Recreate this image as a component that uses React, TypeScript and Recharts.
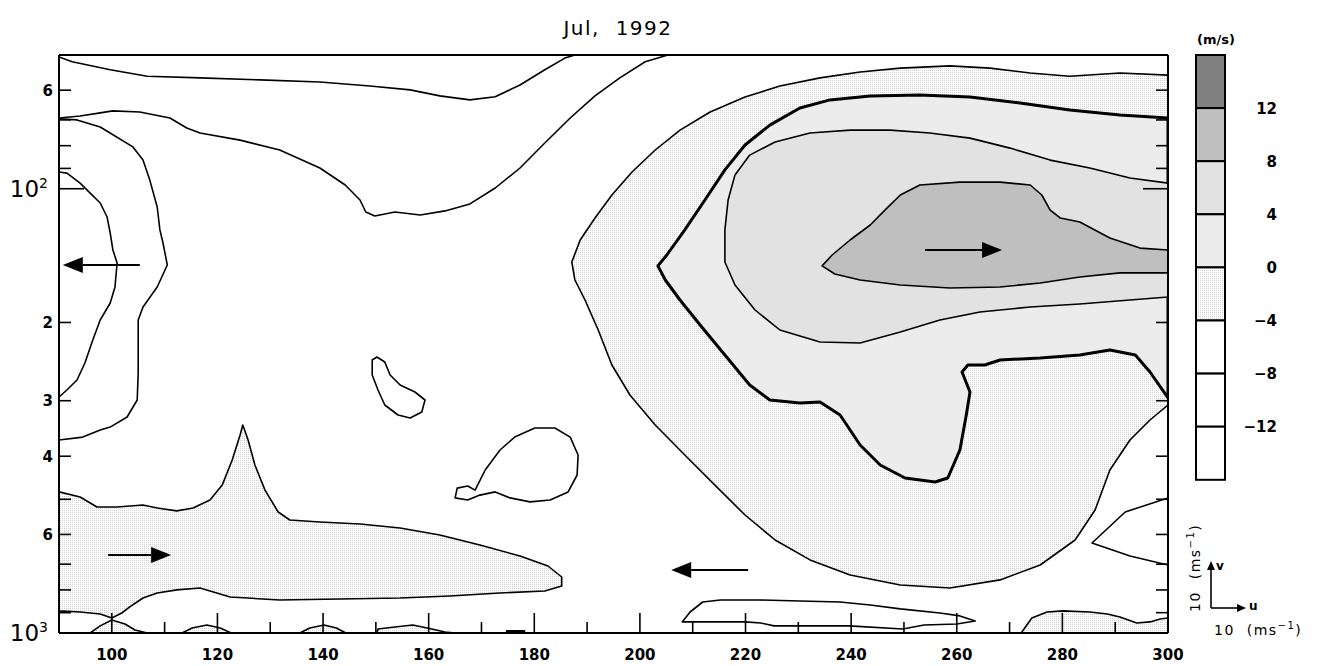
import React from "react";
import { ComposedChart, Scatter, XAxis, YAxis } from "recharts";

const W = 1326;
const H = 666;
const FONT = "DejaVu Sans, Liberation Sans, sans-serif";

// ---- axes ----
const lonTicks = [90, 100, 110, 120, 130, 140, 150, 160, 170, 180, 190, 200, 210, 220, 230, 240, 250, 260, 270, 280, 290, 300];
const presTicks = [50, 60, 70, 80, 90, 100, 200, 300, 400, 500, 600, 700, 800, 900, 1000];
const presLabelAt = [60, 100, 200, 300, 400, 600, 1000];
const presLabelBase = ["6", "10", "2", "3", "4", "6", "10"];
const presLabelExp = ["", "2", "", "", "", "", "3"];

// ---- colour bar (m/s) ----
const levels = [12, 8, 4, 0, -4, -8, -12];
const bandFills = ["#808080", "#bfbfbf", "#e2e2e2", "#ececec", "url(#stippleKey)", "#ffffff", "#ffffff", "#ffffff"];

// ---- wind vectors (tail lon, tail hPa, u m/s) ----
const arrowLon = [105.3, 99.3, 220.5, 254.0];
const arrowP = [148.5, 667.3, 721.3, 137.4];
const arrowU = [-22, 18, -22, 22];

// ---- contours: [lon, hPa] ----
type Pt = [number, number];

const stippleEast: Pt[] = [
  [300, 55.5], [290.9, 54.9], [281.4, 55.8], [273.9, 54.9], [266.3, 53.5], [258.7, 52.9], [249.3, 53.5], [241.7, 54.6],
  [234.1, 56.3], [226.5, 58.7], [219.9, 62.2], [213.3, 67.2], [207.6, 73.8], [202.9, 81.8], [198.5, 91.7], [194.7, 103.3],
  [191.5, 116.4], [188.7, 130.4], [187.1, 146.2], [187.7, 160.5], [189.6, 178.0], [192.1, 208.0], [194.7, 249.3],
  [198.1, 291.3], [202.9, 340.3], [208.5, 397.6], [214.2, 464.5], [219.9, 542.4], [225.6, 617.4], [232.2, 684.8],
  [239.8, 740.2], [249.3, 779.6], [258.7, 791.8], [268.2, 759.6], [275.8, 702.8], [282.4, 617.4], [286.2, 528.5],
  [289.0, 429.7], [292.8, 367.8], [296.6, 331.6], [300, 306.8],
];

const stippleWest: Pt[] = [
  [90, 481.4], [94.0, 494.1], [97.2, 520.4], [101.0, 520.4], [105.9, 515.0], [108.6, 523.1], [112.3, 531.2], [115.4, 523.1],
  [118.6, 501.8], [120.9, 464.5], [122.8, 408.0], [124.3, 358.4], [124.8, 340.3], [125.8, 367.8], [127.1, 418.7],
  [129.0, 476.7], [131.5, 534.0], [133.7, 556.6], [139.4, 562.4], [147.0, 568.3], [154.6, 580.2], [162.1, 601.6],
  [169.7, 633.6], [177.3, 670.8], [182.6, 706.5], [185.2, 747.9], [185.2, 783.6], [182.0, 804.3], [173.5, 812.6],
  [164.0, 825.4], [154.6, 834.0], [143.2, 838.3], [131.8, 842.6], [122.4, 829.7], [116.7, 791.8], [112.3, 800.0],
  [108.6, 812.6], [105.9, 834.0], [103.4, 873.7], [101.9, 901.3], [100.0, 925.0], [97.8, 906.0], [94.0, 896.7], [90, 892.0],
];

const bump100: Pt[] = [[95.9, 1000], [97.8, 964.1], [100.0, 934.6], [102.5, 954.2], [104.4, 984.4], [106.7, 1000]];
const bump120: Pt[] = [[113.3, 1000], [115.2, 974.2], [118.0, 959.2], [120.5, 974.2], [122.6, 1000]];
const bump140: Pt[] = [[135.6, 1000], [137.5, 974.2], [140.2, 959.2], [142.5, 974.2], [144.3, 1000]];
const bump160: Pt[] = [[150.2, 1000], [150.4, 979.3], [153.6, 969.2], [157.0, 959.2], [160.6, 979.3], [163.1, 994.6], [165.0, 1000]];
const bumpEast: Pt[] = [
  [272.2, 1000], [274.2, 925.0], [277.1, 896.7], [280.1, 892.0], [285.2, 896.7], [288.5, 906.0], [290.9, 920.2],
  [294.1, 949.3], [296.6, 944.3], [298.5, 929.8], [300, 925.0], [300, 1000],
];

const zeroLine: Pt[] = [
  [300, 69.3], [290.9, 68.2], [281.4, 66.5], [272.0, 64.1], [262.5, 62.2], [253.0, 61.5], [243.6, 61.8], [236.0, 63.1],
  [230.3, 65.8], [224.6, 71.9], [219.9, 79.7], [216.1, 90.7], [212.3, 106.0], [208.5, 123.8], [205.1, 141.0],
  [203.4, 149.2], [204.8, 160.5], [207.6, 178.0], [211.4, 202.6], [216.1, 236.7], [220.8, 276.6], [224.6, 298.9],
  [230.3, 303.6], [234.1, 302.1], [237.9, 323.1], [241.7, 377.5], [245.5, 418.7], [250.2, 447.9], [255.9, 457.3],
  [258.3, 447.9], [260.6, 387.4], [261.8, 323.1], [262.5, 286.8], [261.0, 258.5], [262.1, 249.3], [265.3, 249.3],
  [268.2, 243.0], [275.8, 240.4], [283.3, 236.7], [289.0, 230.7], [293.8, 236.7], [296.6, 258.5], [300, 295.9],
];

const fourLine: Pt[] = [
  [300, 97.1], [292.8, 94.6], [285.2, 89.8], [277.7, 86.2], [270.1, 81.0], [262.5, 76.9], [254.9, 74.9], [247.4, 73.8],
  [239.8, 73.8], [232.2, 74.9], [225.6, 78.5], [220.8, 84.0], [218.0, 93.1], [216.7, 106.0], [216.1, 123.8],
  [216.1, 146.2], [218.0, 164.7], [221.8, 187.5], [226.5, 208.0], [234.1, 221.3], [241.7, 222.5], [249.3, 210.1],
  [256.8, 197.5], [264.4, 189.4], [273.9, 184.6], [283.3, 181.7], [292.8, 178.0], [300, 175.3],
];

const eightLine: Pt[] = [
  [300, 137.4], [294.7, 136.0], [289.0, 129.1], [283.3, 118.8], [279.6, 116.4], [277.7, 111.7], [276.1, 103.3],
  [273.9, 98.1], [268.2, 96.6], [260.6, 96.6], [253.0, 98.1], [249.3, 103.3], [246.4, 111.7], [243.6, 120.7],
  [239.8, 130.4], [236.4, 141.0], [234.5, 149.2], [236.9, 155.6], [241.7, 160.5], [249.3, 164.7], [258.7, 167.3],
  [268.2, 166.4], [275.8, 163.0], [283.3, 158.0], [290.9, 154.7], [300, 154.7],
];

const lineA: Pt[] = [
  [90, 50.5], [92.5, 51.8], [99.7, 54.0], [106.7, 55.8], [116.7, 56.3], [128.1, 56.9], [139.4, 57.5], [148.9, 58.7],
  [156.5, 59.9], [162.1, 61.8], [167.8, 63.1], [172.6, 62.1], [177.3, 58.4], [182.0, 54.0], [185.8, 50.8], [187.7, 50],
];

const lineB: Pt[] = [
  [90, 69.3], [94.0, 68.6], [97.8, 67.5], [100.2, 66.8], [105.3, 67.2], [111.0, 69.3], [114.2, 73.0], [116.7, 74.9],
  [124.3, 77.7], [131.8, 81.8], [139.4, 89.8], [144.2, 98.1], [147.0, 106.0], [148.1, 112.8], [149.8, 115.2],
  [153.6, 112.8], [158.4, 114.6], [163.1, 112.2], [167.8, 108.2], [172.6, 99.6], [177.3, 89.8], [182.0, 78.9],
  [186.8, 69.3], [191.5, 61.8], [196.2, 56.3], [201.0, 51.8], [205.3, 50],
];

const lineC: Pt[] = [
  [90, 69.6], [93.4, 70.0], [97.8, 72.6], [104.0, 80.5], [105.9, 86.2], [107.2, 95.6], [108.6, 109.9], [109.1, 123.8],
  [109.7, 132.5], [110.5, 148.5], [108.6, 166.4], [105.9, 184.6], [105.0, 197.5], [105.0, 259.9], [104.8, 298.9],
  [102.9, 326.5], [99.7, 343.9], [97.8, 349.2], [94.5, 362.2], [90, 367.8],
];

const lineD: Pt[] = [
  [90, 91.7], [91.5, 92.2], [94.0, 97.1], [95.9, 102.3], [97.8, 107.7], [99.1, 115.8], [99.7, 125.8], [100.2, 137.4],
  [101.0, 146.9], [100.6, 166.4], [99.7, 180.8], [97.8, 197.5], [96.4, 219.0], [94.9, 246.8], [93.4, 269.5],
  [91.5, 283.8], [90, 294.3],
];

const loopSmall: Pt[] = [
  [149.3, 243.0], [150.2, 239.2], [151.7, 245.5], [152.7, 262.6], [154.6, 276.6], [157.4, 286.8], [159.3, 298.9],
  [158.7, 318.1], [156.5, 328.1], [154.2, 323.1], [151.7, 306.8], [150.4, 283.8], [149.3, 262.6],
];

const loopBalloon: Pt[] = [
  [168.8, 476.7], [170.7, 429.7], [173.5, 387.4], [176.3, 362.2], [180.1, 345.6], [183.9, 345.6], [186.8, 362.2],
  [188.3, 397.6], [188.1, 441.0], [186.4, 481.4], [183.0, 501.8], [179.2, 507.0], [175.4, 496.6], [172.6, 481.4],
  [169.7, 489.2], [167.4, 501.8], [165.0, 496.6], [165.4, 471.8], [167.4, 466.9],
];

const loopBottom: Pt[] = [
  [208.0, 944.3], [209.5, 896.7], [211.9, 851.4], [215.2, 842.6], [222.7, 842.6], [230.3, 847.0], [237.9, 851.4],
  [243.6, 864.7], [249.3, 882.8], [256.8, 901.3], [260.6, 915.4], [263.5, 939.5], [260.0, 954.2], [253.8, 959.2],
  [249.8, 979.3], [239.6, 964.1], [225.4, 964.1], [222.9, 949.3], [219.9, 944.3], [215.2, 944.3],
];

const wedgeEast: Pt[] = [[300, 496.6], [291.9, 534.0], [285.6, 627.1], [292.8, 670.8], [300, 702.8]];

const dash175: Pt[] = [[174.8, 990], [178.1, 990], [178.1, 1000], [174.8, 1000]];

const asData = (pts: Pt[]) => pts.map(([lon, p]) => ({ lon, p }));

function contour(fill: string, width: number, closed: boolean, withDefs = false) {
  return (props: any) => {
    const pts: { x: number; y: number }[] = props.points || [];
    const d = pts.map((q, i) => `${i ? "L" : "M"}${q.x.toFixed(1)},${q.y.toFixed(1)}`).join(" ") + (closed ? " Z" : "");
    return (
      <g>
        {withDefs && (
          <defs>
            <pattern id="stipple" width="2" height="2" patternUnits="userSpaceOnUse">
              <rect width="2" height="2" fill="#ffffff" />
              <rect width="1" height="1" fill="#cfcfcf" />
            </pattern>
          </defs>
        )}
        <path d={d} fill={fill} stroke="#000" strokeWidth={width} strokeLinejoin="round" strokeLinecap="round" />
      </g>
    );
  };
}

const noDot = () => <g />;

const ArrowShape = (props: any) => {
  const { cx, cy, payload } = props;
  const len = payload.u * 3.5;
  const dir = Math.sign(len);
  const tip = cx + len;
  const base = tip - dir * 20;
  return (
    <g>
      <line x1={cx} y1={cy} x2={base} y2={cy} stroke="#000" strokeWidth={2} />
      <polygon points={`${tip},${cy} ${base},${cy - 8} ${base},${cy + 8}`} fill="#000" />
    </g>
  );
};

const BottomTick = (props: any) => {
  const { x, y, payload } = props;
  const v = payload.value;
  const major = v % 20 === 0;
  return (
    <g>
      <line x1={x} x2={x} y1={y} y2={y - (major ? 20 : 11)} stroke="#000" strokeWidth={1.6} />
      {major && (
        <text x={x} y={y + 27} textAnchor="middle" fontFamily={FONT} fontSize={15} fontWeight="bold" fill="#000">
          {v}
        </text>
      )}
    </g>
  );
};

const TopTick = (props: any) => {
  const { x, y, payload } = props;
  const major = payload.value % 20 === 0;
  return <line x1={x} x2={x} y1={y} y2={y + (major ? 20 : 11)} stroke="#000" strokeWidth={1.6} />;
};

const LeftTick = (props: any) => {
  const { x, y, payload } = props;
  const v = payload.value;
  const major = v === 100 || v === 1000;
  const i = presLabelAt.indexOf(v);
  return (
    <g>
      {v !== 50 && <line x1={x} x2={x + (major ? 25 : 12)} y1={y} y2={y} stroke="#000" strokeWidth={1.6} />}
      {i >= 0 && presLabelExp[i] === "" && (
        <text x={x - 6} y={y + 5.5} textAnchor="end" fontFamily={FONT} fontSize={15} fontWeight="bold" fill="#000">
          {presLabelBase[i]}
        </text>
      )}
      {i >= 0 && presLabelExp[i] !== "" && (
        <text x={x - 11} y={y + 8} textAnchor="end" fontFamily={FONT} fill="#000">
          <tspan fontSize={23}>{presLabelBase[i]}</tspan>
          <tspan fontSize={14} dy={-9}>{presLabelExp[i]}</tspan>
        </text>
      )}
    </g>
  );
};

const RightTick = (props: any) => {
  const { x, y, payload } = props;
  const v = payload.value;
  if (v === 50) return <g />;
  const major = v === 100 || v === 1000;
  return <line x1={x} x2={x - (major ? 25 : 12)} y1={y} y2={y} stroke="#000" strokeWidth={1.6} />;
};

const AX = { stroke: "#000", strokeWidth: 2 };

export default function App() {
  const layers = [
    { key: "s1", pts: stippleEast, fill: "url(#stipple)", w: 1.6, closed: true, defs: true },
    { key: "s2", pts: stippleWest, fill: "url(#stipple)", w: 1.6, closed: true },
    { key: "b1", pts: bump100, fill: "url(#stipple)", w: 1.6, closed: true },
    { key: "b2", pts: bump120, fill: "url(#stipple)", w: 1.6, closed: true },
    { key: "b3", pts: bump140, fill: "url(#stipple)", w: 1.6, closed: true },
    { key: "b4", pts: bump160, fill: "url(#stipple)", w: 1.6, closed: true },
    { key: "b5", pts: bumpEast, fill: "url(#stipple)", w: 1.6, closed: true },
    { key: "z0", pts: zeroLine, fill: "#ececec", w: 3, closed: true },
    { key: "z4", pts: fourLine, fill: "#e2e2e2", w: 1.6, closed: true },
    { key: "z8", pts: eightLine, fill: "#bfbfbf", w: 1.6, closed: true },
    { key: "la", pts: lineA, fill: "none", w: 1.6, closed: false },
    { key: "lb", pts: lineB, fill: "none", w: 1.6, closed: false },
    { key: "lc", pts: lineC, fill: "none", w: 1.6, closed: false },
    { key: "ld", pts: lineD, fill: "none", w: 1.6, closed: false },
    { key: "o1", pts: loopSmall, fill: "none", w: 1.6, closed: true },
    { key: "o2", pts: loopBalloon, fill: "none", w: 1.6, closed: true },
    { key: "o3", pts: loopBottom, fill: "none", w: 1.6, closed: true },
    { key: "we", pts: wedgeEast, fill: "none", w: 1.6, closed: false },
    { key: "da", pts: dash175, fill: "#000", w: 2, closed: true },
  ];
  const arrows = arrowLon.map((lon, i) => ({ lon, p: arrowP[i], u: arrowU[i] }));
  const bandH = 53.1;

  return (
    <div style={{ position: "absolute", left: 0, top: 0, width: W, height: H, background: "#fff" }}>
      <ComposedChart width={W} height={H} margin={{ top: 45, right: 148, bottom: 8, left: 14 }}>
        {layers.map((l) => (
          <Scatter
            key={l.key}
            xAxisId="b"
            yAxisId="l"
            data={asData(l.pts)}
            line={contour(l.fill, l.w, l.closed, !!l.defs)}
            shape={noDot}
            legendType="none"
            isAnimationActive={false}
          />
        ))}
        <Scatter xAxisId="b" yAxisId="l" data={arrows} shape={ArrowShape} legendType="none" isAnimationActive={false} />
        <XAxis xAxisId="b" type="number" dataKey="lon" domain={[90, 300]} ticks={lonTicks} interval={0} height={25}
          tickSize={0} tickMargin={0} tickLine={false} axisLine={AX} tick={BottomTick} allowDataOverflow zIndex={1000} />
        <XAxis xAxisId="t" orientation="top" type="number" domain={[90, 300]} ticks={lonTicks} interval={0} height={10}
          tickSize={0} tickMargin={0} tickLine={false} axisLine={AX} tick={TopTick} allowDataOverflow zIndex={1000} />
        <YAxis yAxisId="l" type="number" dataKey="p" scale="log" domain={[50, 1000]} reversed ticks={presTicks} interval={0}
          width={45} tickSize={0} tickMargin={0} tickLine={false} axisLine={AX} tick={LeftTick} allowDataOverflow zIndex={1000} />
        <YAxis yAxisId="r" orientation="right" type="number" scale="log" domain={[50, 1000]} reversed ticks={presTicks}
          interval={0} width={10} tickSize={0} tickMargin={0} tickLine={false} axisLine={AX} tick={RightTick} allowDataOverflow zIndex={1000} />
      </ComposedChart>

      <svg width={W} height={H} style={{ position: "absolute", left: 0, top: 0, pointerEvents: "none" }}>
        <defs>
          <pattern id="stippleKey" width="2" height="2" patternUnits="userSpaceOnUse">
            <rect width="2" height="2" fill="#ffffff" />
            <rect width="1" height="1" fill="#cfcfcf" />
          </pattern>
        </defs>
        <text x={618} y={35} textAnchor="middle" fontFamily={FONT} fontSize={20} letterSpacing={1.5} style={{ whiteSpace: "pre" }}>
          {"Jul,  1992"}
        </text>

        <text x={1216} y={44} textAnchor="middle" fontFamily={FONT} fontSize={13} fontWeight="bold">(m/s)</text>
        {bandFills.map((f, i) => (
          <rect key={i} x={1196} y={55 + i * bandH} width={29} height={bandH} fill={f} stroke="#000" strokeWidth={2} />
        ))}
        {levels.map((lv, i) => (
          <text key={lv} x={1277} y={55 + (i + 1) * bandH + 5.5} textAnchor="end" fontFamily={FONT} fontSize={15} fontWeight="bold">
            {lv < 0 ? `\u2212${-lv}` : lv}
          </text>
        ))}

        {/* reference vector */}
        <line x1={1211} y1={608} x2={1211} y2={568} stroke="#000" strokeWidth={1.6} />
        <polygon points="1211,561 1207,570 1215,570" fill="#000" />
        <text x={1216} y={570} fontFamily={FONT} fontSize={12} fontWeight="bold">v</text>
        <line x1={1211} y1={608} x2={1240} y2={608} stroke="#000" strokeWidth={1.6} />
        <polygon points="1246,608 1237,604 1237,612" fill="#000" />
        <text x={1249} y={610} fontFamily={FONT} fontSize={12} fontWeight="bold">u</text>
        <text x={1214} y={635} fontFamily={FONT} fontSize={14} letterSpacing={1.5} style={{ whiteSpace: "pre" }}>
          {"10  (ms"}
          <tspan fontSize={10} dy={-6}>{"\u22121"}</tspan>
          <tspan dy={6}>)</tspan>
        </text>
        <text transform="translate(1200,612) rotate(-90)" fontFamily={FONT} fontSize={14} letterSpacing={1.5} style={{ whiteSpace: "pre" }}>
          {"10  (ms"}
          <tspan fontSize={10} dy={-6}>{"\u22121"}</tspan>
          <tspan dy={6}>)</tspan>
        </text>
      </svg>
    </div>
  );
}
